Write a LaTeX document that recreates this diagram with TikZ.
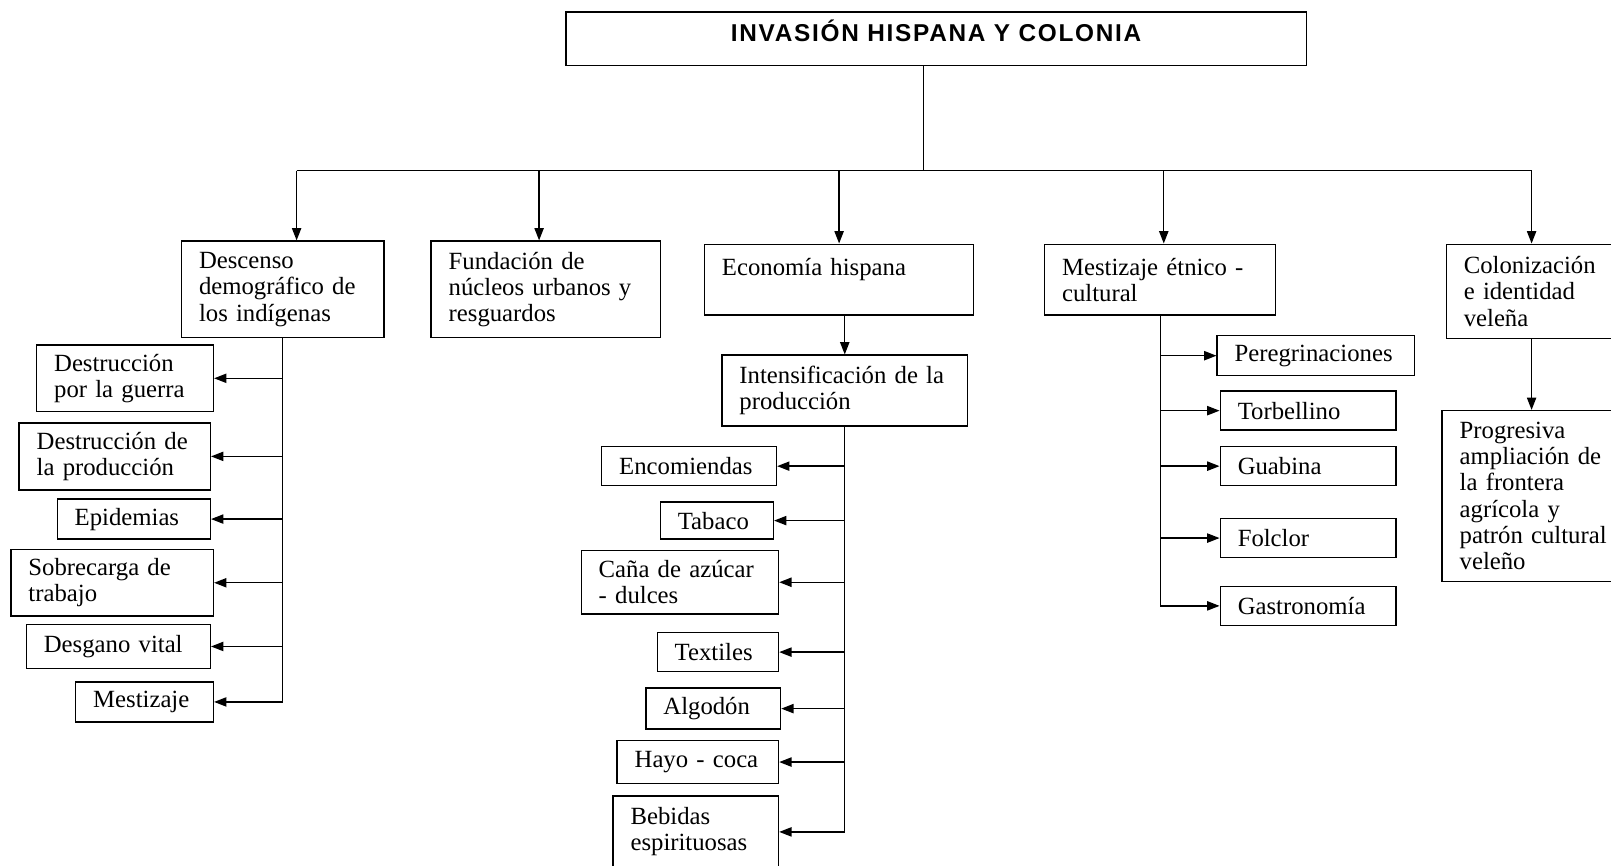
\documentclass[tikz,border=0pt]{standalone}
\usepackage{fontspec}
\setmainfont{Liberation Serif}
\newfontfamily\titlefont[LetterSpace=7]{Liberation Sans}
\usepackage{tikz}
\usetikzlibrary{arrows.meta}
\newcommand\bodyfont{\fontsize{13.7}{14.5}\selectfont}

\begin{document}
\begin{tikzpicture}[
  x=0.02cm, y=-0.02cm,
  box/.style 2 args={
    draw, line width=0.8pt, anchor=north west, align=left,
    inner xsep=0.34cm, inner ysep=0pt, font=\bodyfont,
    text width=(#1-34)*0.02cm, minimum height=#2*0.02cm,
  },
  head/.style={
    draw, line width=0.8pt, anchor=north west, inner sep=0pt,
    minimum width=14.42cm, minimum height=1.04cm,
    text height=0.36cm, text depth=0.26cm,
    font=\titlefont\bfseries\fontsize{13.5}{15}\selectfont,
  },
  line/.style={line width=0.75pt},
  arr/.style={line width=0.75pt, -{Triangle[length=0.24cm,width=0.18cm]}},
  ]
  \clip (0,0) rectangle (1568,842);
  \node[head] (title) at (550,11) {INVASIÓN HISPANA Y COLONIA};

  \node[box={197}{94}] (desc) at (176,234) {Descenso\\demográfico de\\los indígenas};
  \node[box={223}{94}] (fund) at (419,234) {Fundación de\\núcleos urbanos y\\resguardos};
  \node[box={262}{69}] (eco) at (685,237) {Economía hispana\\\mbox{}};
  \node[box={225}{69}] (mz) at (1016,237) {Mestizaje étnico -\\cultural};
  \node[box={166}{92}] (colon) at (1407,237) {Colonización\\e identidad\\veleña};

  \node[box={172}{65}] (guerra) at (35,335) {Destrucción\\por la guerra};
  \node[box={186}{65}] (prod) at (18,411) {Destrucción de\\la producción};
  \node[box={149}{39}] (epid) at (55,485) {Epidemias};
  \node[box={197}{65}] (sobre) at (10,534) {Sobrecarga de\\trabajo};
  \node[box={179}{43}] (desg) at (25,607) {Desgano vital};
  \node[box={134}{39}] (mest) at (73,663) {Mestizaje};

  \node[box={239}{69}] (inten) at (702,345) {Intensificación de la\\producción};
  \node[box={170}{38}] (enco) at (585,434) {Encomiendas};
  \node[box={110}{36}] (taba) at (642,488) {Tabaco};
  \node[box={192}{62}] (cana) at (565,535) {Caña de azúcar\\- dulces};
  \node[box={118}{38}] (text) at (639,615) {Textiles};
  \node[box={131}{40}] (algo) at (628,669) {Algodón};
  \node[box={157}{42}] (hayo) at (600,720) {Hayo - coca};
  \node[box={161}{70}] (bebi) at (596,774) {Bebidas\\espirituosas};

  \node[box={192}{39}] (pere) at (1184,326) {Peregrinaciones};
  \node[box={171}{38}] (torb) at (1187,380) {Torbellino};
  \node[box={171}{38}] (guab) at (1187,434) {Guabina};
  \node[box={171}{38}] (folc) at (1187,504) {Folclor};
  \node[box={171}{38}] (gast) at (1187,570) {Gastronomía};

  \node[box={200}{166}] (prog) at (1403,399) {Progresiva\\ampliación de\\la frontera\\agrícola y\\patrón cultural\\veleño};

  \coordinate (bus) at (899,166);
  \coordinate (dA) at ([xshift=0.27cm]desc.north);
  \coordinate (dB) at ([xshift=-0.13cm]fund.north);
  \coordinate (dC) at (eco.north);
  \coordinate (dD) at ([xshift=0.07cm]mz.north);
  \coordinate (dE) at (colon.north);
  \draw[line] (bus |- title.south) -- (bus);
  \draw[line] (dA |- bus) -- (dE |- bus);
  \draw[arr] (dA |- bus) -- (dA);
  \draw[arr] (dB |- bus) -- (dB);
  \draw[arr] (dC |- bus) -- (dC);
  \draw[arr] (dD |- bus) -- (dD);
  \draw[arr] (dE |- bus) -- (dE);

  \draw[arr] (desc.south) |- (mest.east);
  \draw[arr] (desc.south |- guerra.east) -- (guerra.east);
  \draw[arr] (desc.south |- prod.east) -- (prod.east);
  \draw[arr] (desc.south |- epid.east) -- (epid.east);
  \draw[arr] (desc.south |- sobre.east) -- (sobre.east);
  \draw[arr] (desc.south |- desg.east) -- (desg.east);

  \draw[arr] (inten.north |- eco.south) -- (inten.north);
  \draw[arr] (inten.south) |- (bebi.east);
  \draw[arr] (inten.south |- enco.east) -- (enco.east);
  \draw[arr] (inten.south |- taba.east) -- (taba.east);
  \draw[arr] (inten.south |- cana.east) -- (cana.east);
  \draw[arr] (inten.south |- text.east) -- (text.east);
  \draw[arr] (inten.south |- algo.east) -- (algo.east);
  \draw[arr] (inten.south |- hayo.east) -- (hayo.east);

  \draw[arr] (mz.south) |- (gast.west);
  \draw[arr] (mz.south |- pere.west) -- (pere.west);
  \draw[arr] (mz.south |- torb.west) -- (torb.west);
  \draw[arr] (mz.south |- guab.west) -- (guab.west);
  \draw[arr] (mz.south |- folc.west) -- (folc.west);

  \draw[arr] (colon.south) -- (colon.south |- prog.north);
\end{tikzpicture}
\end{document}
